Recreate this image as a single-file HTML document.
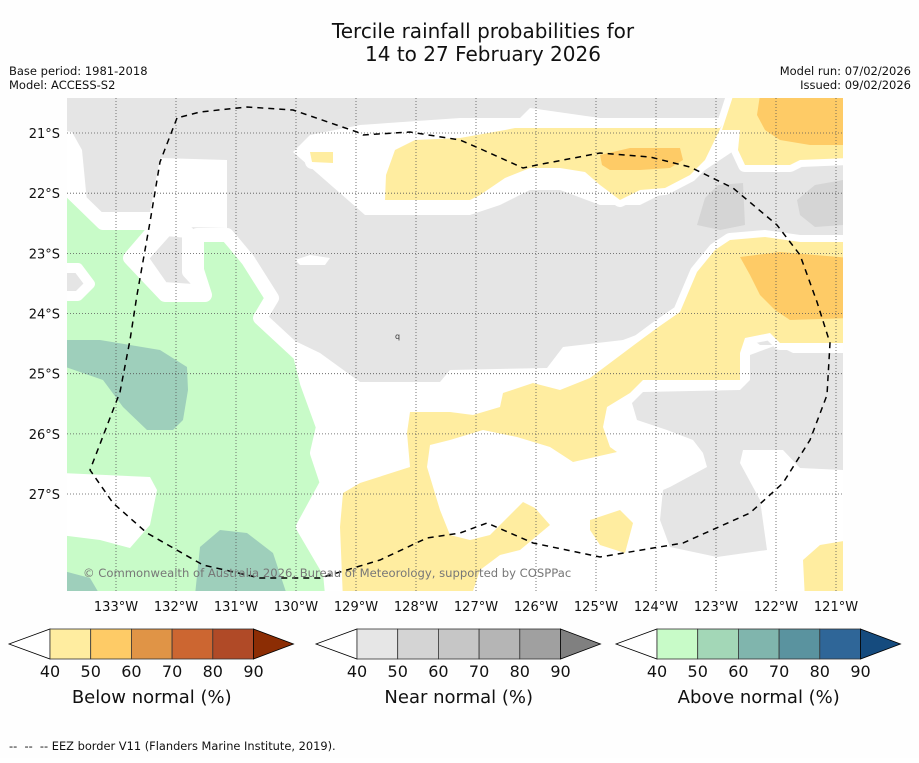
<!DOCTYPE html>
<html><head><meta charset="utf-8">
<style>
body{margin:0;background:#fff;width:919px;height:758px;overflow:hidden;font-family:"Liberation Sans","DejaVu Sans",sans-serif;}
svg text{font-family:"DejaVu Sans","Liberation Sans",sans-serif;}
</style></head>
<body>
<svg id="chart" width="919" height="758" viewBox="0 0 919 758" xmlns="http://www.w3.org/2000/svg">
<rect width="919" height="758" fill="#fefefe"/>
<text x="483" y="38" font-size="20" text-anchor="middle" fill="#111">Tercile rainfall probabilities for</text>
<text x="483" y="61" font-size="20" text-anchor="middle" fill="#111">14 to 27 February 2026</text>
<text x="9" y="75" font-size="11.5" fill="#111">Base period: 1981-2018</text>
<text x="9" y="89" font-size="11.5" fill="#111">Model: ACCESS-S2</text>
<text x="911" y="75" font-size="11.5" fill="#111" text-anchor="end">Model run: 07/02/2026</text>
<text x="911" y="89" font-size="11.5" fill="#111" text-anchor="end">Issued: 09/02/2026</text>
<defs><clipPath id="mapclip"><rect x="67" y="98" width="776" height="493"/></clipPath></defs>
<g clip-path="url(#mapclip)">
<rect x="67" y="98" width="776" height="493" fill="#ffffff"/>
<polygon fill="#e5e5e5" points="67,98 843,98 843,345 760,345 700,300 650,330 623,340 563,347 547,368 450,370 440,382 360,382 320,353 293,340 270,320 240,280 67,280"/>
<polygon fill="#e5e5e5" points="632,403 643,392 740,390 750,380 750,355 777,345 793,353 843,353 843,470 800,468 783,450 743,450 740,463 760,500 767,550 717,557 670,547 660,520 663,490 670,487 707,467 703,453 693,440 667,430 637,420"/>
<polygon fill="#d5d5d5" points="697,225 705,198 718,185 743,183 745,225 720,230"/>
<polygon fill="#d5d5d5" points="797,200 815,185 843,180 843,225 815,227 800,215"/>
<polygon fill="#ffffff" points="60,130 72,132 82,150 88,212 150,212 160,158 227,160 227,228 100,225 60,195"/>
<polygon fill="#ffffff" points="293,152 310,135 360,125 460,118 520,118 530,108 600,118 720,118 735,98 745,98 735,150 690,180 640,205 600,205 560,190 530,190 500,205 470,215 365,215"/>
<polygon fill="#ffffff" points="295,260 310,255 330,258 325,265 300,265"/>
<polygon fill="#c8fbc8" stroke="#fff" stroke-width="14" stroke-linejoin="round" points="50,178 67,188 103,223 160,223 130,258 165,295 205,295 197,270 197,235 227,235 233,242 248,260 272,298 260,318 300,355 307,383 323,427 317,453 327,483 303,527 330,573 333,605 50,605"/>
<polygon fill="#e5e5e5" stroke="#fff" stroke-width="12" stroke-linejoin="round" points="142,258 167,230 188,232 188,272 200,285 193,290 163,288"/>
<polygon fill="#e5e5e5" stroke="#fff" stroke-width="10" stroke-linejoin="round" points="50,268 78,268 90,284 78,296 50,296"/>
<polygon fill="#ffffff" points="60,473 150,477 157,490 150,525 130,548 100,540 60,535"/>
<polygon fill="#9ecfbb" points="60,340 100,340 160,350 187,367 188,390 183,420 173,430 147,430 123,407 103,380 60,365"/>
<polygon fill="#9ecfbb" points="195,595 200,547 220,530 247,533 273,553 287,595"/>
<polygon fill="#9ecfbb" points="60,570 90,578 100,595 60,595"/>
<g stroke="#fff" stroke-width="14" stroke-linejoin="round">
<polygon points="385,200 386,175 395,150 415,140 460,138 505,130 515,128 720,128 722,125 705,160 690,175 665,188 640,190 620,200 600,185 585,172 560,168 530,168 505,178 480,195 470,200"/>
<polygon points="735,90 850,90 850,158 800,160 790,165 745,165 738,150 740,130 722,130"/>
<polygon points="715,250 730,240 765,237 800,242 850,242 850,343 780,343 770,333 745,338 740,353 740,380 643,380 630,393 607,407 603,427 610,447 617,452 573,462 550,447 517,437 483,430 450,440 430,445 427,467 440,510 450,535 470,540 490,535 505,520 523,502 535,508 550,525 520,550 500,555 480,570 470,600 343,600 340,527 343,493 360,483 410,467 407,433 410,412 450,412 473,415 500,407 503,393 533,383 560,390 590,378 630,348 657,328 680,312 697,272"/>
<polygon points="803,560 820,545 850,540 850,600 805,600"/>
<polygon points="590,520 620,510 633,523 625,553 600,545 590,530"/>
<polygon points="310,152 333,152 333,163 312,162"/>
</g>
<g fill="#ffeda0">
<polygon points="385,200 386,175 395,150 415,140 460,138 505,130 515,128 720,128 722,125 705,160 690,175 665,188 640,190 620,200 600,185 585,172 560,168 530,168 505,178 480,195 470,200"/>
<polygon points="735,90 850,90 850,158 800,160 790,165 745,165 738,150 740,130 722,130"/>
<polygon points="715,250 730,240 765,237 800,242 850,242 850,343 780,343 770,333 745,338 740,353 740,380 643,380 630,393 607,407 603,427 610,447 617,452 573,462 550,447 517,437 483,430 450,440 430,445 427,467 440,510 450,535 470,540 490,535 505,520 523,502 535,508 550,525 520,550 500,555 480,570 470,600 343,600 340,527 343,493 360,483 410,467 407,433 410,412 450,412 473,415 500,407 503,393 533,383 560,390 590,378 630,348 657,328 680,312 697,272"/>
<polygon points="803,560 820,545 850,540 850,600 805,600"/>
<polygon points="590,520 620,510 633,523 625,553 600,545 590,530"/>
<polygon points="310,152 333,152 333,163 312,162"/>
</g>
<g fill="#fecb66">
<polygon points="600,155 630,148 680,148 683,160 670,168 640,170 610,170 602,165"/>
<polygon points="760,95 850,95 850,145 810,145 780,140 765,130 757,115"/>
<polygon points="740,257 780,252 850,258 850,318 790,320 775,310 760,295 750,275"/>
</g>
<g id="grid"></g>
<polyline id="eez" fill="none" stroke="#000" stroke-width="1.5" stroke-dasharray="6,5" points="177,118 160,162 150,222 137,295 130,340 120,392 90,470 113,503 147,533 203,565 260,578 320,578 380,560 427,538 460,533 487,523 533,543 600,557 683,543 750,513 783,483 810,440 827,395 830,343 817,302 800,255 777,225 733,188 690,167 650,157 600,153 537,165 523,168 483,150 460,140 410,132 363,135 357,132 293,110 247,107 200,112 177,118"/>
<text x="395" y="339" font-size="8" fill="#333">q</text>
<text x="83" y="577" font-size="11.6" fill="#777">© Commonwealth of Australia 2026, Bureau of Meteorology, supported by COSPPac</text>
</g>
<g id="axes"></g>
<g id="colorbars"></g>
<text x="9" y="750" font-size="11.4" fill="#111">-- &#160;-- &#160;-- EEZ border V11 (Flanders Marine Institute, 2019).</text>
</svg>
<script>
const lonTicks = [133,132,131,130,129,128,127,126,125,124,123,122,121];
const latTicks = [21,22,23,24,25,26,27];
const levels = [40,50,60,70,80,90];
const belowColors = ["#ffeda0","#fecb66","#e09446","#cc6631","#b04a27","#8c2d04"];
const nearColors = ["#e6e6e6","#d4d4d4","#c6c6c6","#b5b5b5","#a0a0a0","#808080"];
const aboveColors = ["#c8fbc8","#a3d7b7","#80b5ad","#5a939f","#2f6698","#154b7e"];
const barTitles = ["Below normal (%)","Near normal (%)","Above normal (%)"];

const NS="http://www.w3.org/2000/svg";
function xScale(lon){return 116+(133-lon)*60;}
function yScale(lat){return 133+(lat-21)*60.17;}
function mk(tag,attrs,parent){const e=document.createElementNS(NS,tag);for(const k in attrs)e.setAttribute(k,attrs[k]);parent.appendChild(e);return e;}
const grid=document.getElementById('grid');
const axes=document.getElementById('axes');
lonTicks.forEach(lon=>{
  const x=xScale(lon);
  const l=mk('line',{x1:x,x2:x,y1:98,y2:591,stroke:'#555','stroke-width':0.8,'stroke-dasharray':'1,2'},grid);
  
  
  const t=mk('text',{x:x,y:611,'font-size':13,'text-anchor':'middle',fill:'#111'},axes);
  t.textContent=lon+'°W';
  
  
});
latTicks.forEach(lat=>{
  const y=yScale(lat);
  const l=mk('line',{x1:67,x2:843,y1:y,y2:y,stroke:'#555','stroke-width':0.8,'stroke-dasharray':'1,2'},grid);
  
  
  const t=mk('text',{x:60,y:y+5,'font-size':13,'text-anchor':'end',fill:'#111'},axes);
  t.textContent=lat+'°S';
  
  
});
const cb=document.getElementById('colorbars');
const starts=[50,357,657];
[belowColors,nearColors,aboveColors].forEach((cols,i)=>{
  const x0=starts[i], w=203.5, seg=w/(levels.length-1), y0=629, h=30;
  const g=mk('g',{},cb);
  
  
  const lt=mk('polygon',{points:`${x0-41},${y0+h/2} ${x0},${y0} ${x0},${y0+h}`,fill:'#fff',stroke:'#000','stroke-width':0.8},g);
  
  
  for(let k=0;k<levels.length-1;k++){
    const r=mk('rect',{x:x0+k*seg,y:y0,width:seg,height:h,fill:cols[k],stroke:'#333','stroke-width':0.8},g);
    
    
  }
  const rt=mk('polygon',{points:`${x0+w},${y0} ${x0+w+40},${y0+h/2} ${x0+w},${y0+h}`,fill:cols[5],stroke:'#000','stroke-width':0.8},g);
  
  
  levels.forEach((v,k)=>{
    const t=mk('text',{x:x0+k*seg,y:677,'font-size':16,'text-anchor':'middle',fill:'#111'},g);
    t.textContent=v;
    
    
  });
  const tt=mk('text',{x:x0+w/2,y:703,'font-size':18,'text-anchor':'middle',fill:'#111'},g);
  tt.textContent=barTitles[i];
  
  
});
</script>
</body></html>
